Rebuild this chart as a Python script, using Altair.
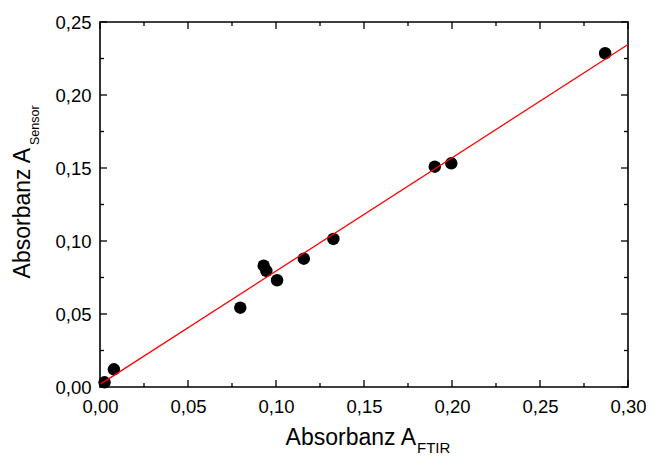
import altair as alt
import pandas as pd

# Measured data (Absorbanz FTIR vs. Sensor)
a_ftir = [0.0026, 0.0079, 0.0797, 0.0930, 0.0945, 0.1006, 0.1158, 0.1326, 0.1902, 0.1996, 0.2870]
a_sensor = [0.0032, 0.0121, 0.0543, 0.0831, 0.0795, 0.0731, 0.0879, 0.1014, 0.1509, 0.1532, 0.2286]

# Linear fit line end points
fit_x = [0.0, 0.30]
fit_y = [0.0018, 0.2346]

x_major = [0.00, 0.05, 0.10, 0.15, 0.20, 0.25, 0.30]
x_minor = [0.025, 0.075, 0.125, 0.175, 0.225, 0.275]
y_major = [0.00, 0.05, 0.10, 0.15, 0.20, 0.25]
y_minor = [0.025, 0.075, 0.125, 0.175, 0.225]

W, H = 528, 365
FONT = "Liberation Sans"
MAJ, MIN = 7, 4

pts = pd.DataFrame({"x": a_ftir, "y": a_sensor})
fit = pd.DataFrame({"x": fit_x, "y": fit_y})

xs = alt.Scale(domain=[0, 0.30], nice=False, zero=False)
ys = alt.Scale(domain=[0, 0.25], nice=False, zero=False)
fmt = "replace(format(datum.value, '.2f'), '.', ',')"

points = alt.Chart(pts).mark_circle(size=155, color="black", opacity=1).encode(
    x=alt.X("x:Q", scale=xs, title="", axis=alt.Axis(
        title="", values=x_major, ticks=False, domain=False, grid=False,
        labelExpr=fmt, labelFont=FONT, labelFontSize=18.5, labelColor="black",
        labelPadding=10, labelFlush=False, labelOverlap=False)),
    y=alt.Y("y:Q", scale=ys, title="", axis=alt.Axis(
        title="", values=y_major, ticks=False, domain=False, grid=False,
        labelExpr=fmt, labelFont=FONT, labelFontSize=18.5, labelColor="black",
        labelPadding=9, labelFlush=False, labelOverlap=False)),
)

line = alt.Chart(fit).mark_line(color="#ff0000", strokeWidth=1.3).encode(
    x=alt.X("x:Q", scale=xs, title=""),
    y=alt.Y("y:Q", scale=ys, title=""),
)

def xticks(vals, length):
    df = pd.DataFrame({"x": vals})
    b = alt.Chart(df).mark_rule(color="black", strokeWidth=1.3).encode(
        x=alt.X("x:Q", scale=xs, title=""), y=alt.value(H), y2=alt.value(H - length))
    t = alt.Chart(df).mark_rule(color="black", strokeWidth=1.3).encode(
        x=alt.X("x:Q", scale=xs, title=""), y=alt.value(0), y2=alt.value(length))
    return [b, t]

def yticks(vals, length):
    df = pd.DataFrame({"y": vals})
    l = alt.Chart(df).mark_rule(color="black", strokeWidth=1.3).encode(
        y=alt.Y("y:Q", scale=ys, title=""), x=alt.value(0), x2=alt.value(length))
    r = alt.Chart(df).mark_rule(color="black", strokeWidth=1.3).encode(
        y=alt.Y("y:Q", scale=ys, title=""), x=alt.value(W), x2=alt.value(W - length))
    return [l, r]

ticks = xticks(x_major, MAJ) + xticks(x_minor, MIN) + yticks(y_major, MAJ) + yticks(y_minor, MIN)

def label(txt, x, y, size, align, angle=0):
    return alt.Chart(pd.DataFrame({"t": [txt]})).mark_text(
        font=FONT, fontSize=size, color="black", align=align, baseline="alphabetic", angle=angle
    ).encode(text="t:N", x=alt.value(x), y=alt.value(y))

titles = [
    label("Absorbanz A", 316, 423, 23, "right"),
    label("FTIR", 317, 431, 15, "left"),
    label("Absorbanz A", -70, 126, 23, "right", 270),
    label("Sensor", -61, 123, 12.5, "left", 270),
]

chart = alt.layer(points, line, *ticks, *titles).properties(
    width=W, height=H,
    autosize=alt.AutoSizeParams(type="none"),
    padding={"left": 92, "top": 14, "right": 18, "bottom": 69},
).configure_view(stroke="black", strokeWidth=1.6)

chart.save("out.html", embed_options={"renderer": "svg", "actions": False})
